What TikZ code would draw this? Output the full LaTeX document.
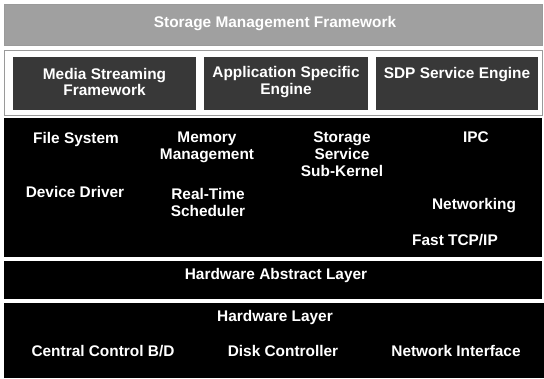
\documentclass[tikz,border=0pt]{standalone}
\usepackage{fontspec}
\setmainfont{Liberation Sans}
\begin{document}
\begin{tikzpicture}[x=1pt,y=-1pt,
  lbl/.style={text=white,font=\bfseries\fontsize{15.4}{16.8}\selectfont,align=center,inner sep=0pt},
  engine/.style={fill=engcol,draw=none},
  layer/.style={fill=black,draw=none}]
\definecolor{topcol}{HTML}{A0A0A0}
\definecolor{engcol}{HTML}{383838}
\definecolor{framecol}{HTML}{9A9A9A}
\useasboundingbox (0,0) rectangle (544,378);
% top bar
\path[fill=topcol,draw=framecol] (4,4) rectangle (542,45);
\node[lbl] (smf) at (275,24) {Storage Management Framework};
% engines frame
\path[fill=white,draw=framecol,line width=1pt] (4,50) rectangle (542,115);
\path[engine] (13,57) rectangle (196,110);
\path[engine] (204,57) rectangle (368,110);
\path[engine] (376,57) rectangle (538,110);
\node[lbl] (msf) at (104.5,82) {Media Streaming\\Framework};
\node[lbl] (ase) at (286,82) {Application Specific\\Engine};
\node[lbl,anchor=north] (sdp) at (457,67) {SDP Service Engine};
% kernel
\path[layer] (4,118) rectangle (542,257);
\node[lbl,anchor=north] (fs) at (76,132) {File System};
\node[lbl,anchor=north] (mm) at (207,132) {Memory\\Management};
\node[lbl,anchor=north] (ss) at (342,132) {Storage\\Service\\Sub-Kernel};
\node[lbl,anchor=north] (ipc) at (476,132) {IPC};
\node[lbl,anchor=north] (dd) at (75,186) {Device Driver};
\node[lbl,anchor=north] (rts) at (208,188) {Real-Time\\Scheduler};
\node[lbl,anchor=north] (net) at (474,198) {Networking};
\node[lbl,anchor=north] (tcp) at (455,234) {Fast TCP/IP};
% HAL
\path[layer] (4,261) rectangle (542,299);
\node[lbl] (hal) at (276,276) {Hardware Abstract Layer};
% hardware
\path[layer] (4,303) rectangle (544,378);
\node[lbl] (hw) at (275,318) {Hardware Layer};
\node[lbl] (ccb) at (103,351) {Central Control B/D};
\node[lbl] (dc) at (283,351) {Disk Controller};
\node[lbl] (ni) at (456,351) {Network Interface};
\end{tikzpicture}
\end{document}
